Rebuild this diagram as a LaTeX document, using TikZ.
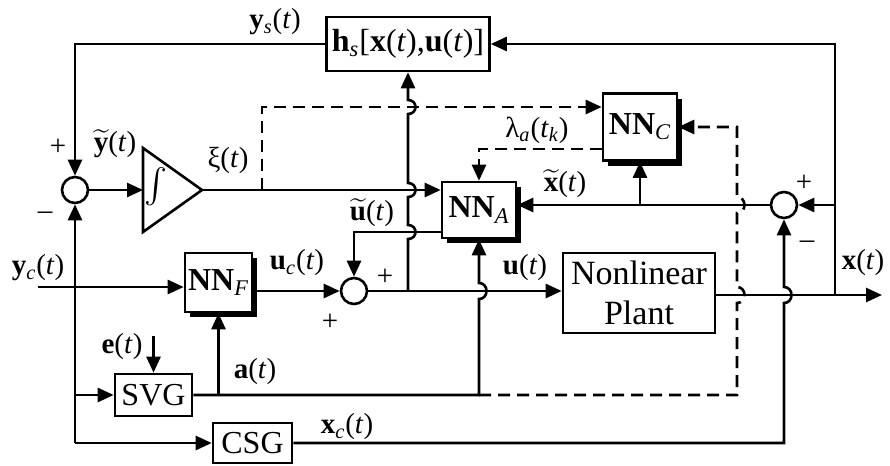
\documentclass[tikz,border=0pt]{standalone}
\usepackage{amsmath}
\usepackage{fontspec}
\setmainfont{Liberation Serif}
\usetikzlibrary{arrows.meta,shadows}
\newcommand{\tv}{(\textit{t})}
\newcommand{\bv}[1]{\textbf{#1}}
\newcommand{\sbi}[1]{$_{\textit{#1}}$}
\newcommand{\tld}[1]{$\widetilde{\textbf{#1}}$}
\begin{document}
\begin{tikzpicture}[x=0.5pt,y=-0.5pt, line width=1.3pt,
  >={Triangle[length=8pt,width=7pt]},
  box/.style={draw, fill=white, inner sep=0pt, font=\fontsize{16}{19}\selectfont},
  nnbox/.style={box, drop shadow={shadow xshift=2.5pt, shadow yshift=-2.5pt, fill=black, opacity=1}},
  sumj/.style={draw, circle, minimum size=13pt, inner sep=0pt},
  lab/.style={font=\fontsize{14.5}{17}\selectfont, inner sep=0pt},
  dsh/.style={dash pattern=on 6pt off 3.5pt}]
\useasboundingbox (0,0) rectangle (890,466);
% blocks
\node[box, minimum width=81.5pt, minimum height=27pt] (hs) at (408,44) {\bv{h}\sbi{s}[\bv{x}\tv,\bv{u}\tv]};
\node[nnbox, minimum width=37pt, minimum height=33.5pt] (nnc) at (640,127) {\bv{NN}\sbi{C}};
\node[nnbox, minimum width=37pt, minimum height=28pt] (nna) at (479,210) {\bv{NN}\sbi{A}};
\node[nnbox, minimum width=33.5pt, minimum height=29.5pt] (nnf) at (218.5,282.5) {\bv{NN}\sbi{F}};
\node[box, minimum width=76pt, minimum height=40pt, align=center, font=\fontsize{17}{20}\selectfont] (plant) at (639,293) {Nonlinear\\Plant};
\node[box, minimum width=38.5pt, minimum height=21pt] (svg) at (153.5,395) {SVG};
\node[box, minimum width=39.5pt, minimum height=20pt] (csg) at (252.5,443) {CSG};
\node[sumj] (s1) at (75,190) {};
\node[sumj] (s2) at (354,291) {};
\node[sumj] (s3) at (784,205) {};
% integrator
\coordinate (intL) at (143,190);
\coordinate (intR) at (202,190);
\draw (143,148) -- (143,232) -- (intR) -- cycle;
\node[inner sep=0pt, font=\fontsize{18}{20}\selectfont] (ints) at (156,187) {$\int$};
% coordinates
\coordinate (xj) at (835,295);
\coordinate (xout) at (882,295);
\coordinate (ycin) at (38,287);
\coordinate (lb) at (75,443);
\coordinate (ein) at (153.5,336);
\coordinate (xiB) at (262,190);
\coordinate (xiT) at (262,107);
\coordinate (ub) at (408,291);
\coordinate (cu) at (479,395);
\coordinate (dc) at (737,395);
\coordinate (cs) at (784,443);
% connectors
\draw[->] (xj) -- (835,44) -- (hs.east);
\draw[->] (hs.west) -| (s1.north);
\draw[->] (s1.east) -- (intL);
\draw[->] (intR) -- (intR -| nna.west);
\draw[dsh,->] (xiB) -- (xiT) -- (xiT -| nnc.west);
\draw[dsh,->] ([yshift=-11pt]nnc.west) -| (nna.north);
\draw[->] (s3.west) -- (s3.west -| nna.east);
\draw[->] (nnc.south |- s3.west) -- (nnc.south);
\draw[->] ([yshift=-11pt]nna.west) -| (s2.north);
\draw[->] (ycin) -- (ycin -| nnf.west);
\draw[->] (nnf.east |- s2.west) -- (s2.west);
\draw[->] (s2.east) -- (s2.east -| plant.west);
\draw (plant.east |- xj) -- (xj);
\draw[->] (xj) -- (xout);
\draw[->] (s3.east -| xj) -- (s3.east);
\draw[->] (ub) -- (408,239) .. controls (418,239) and (418,225) .. (408,225)
  -- (408,197) .. controls (418,197) and (418,183) .. (408,183)
  -- (408,114) .. controls (418,114) and (418,100) .. (408,100) -- (hs.south);
\draw[->] (lb) -- (s1.south);
\draw[->] (lb) -- (csg.west);
\draw[->] (lb |- svg.west) -- (svg.west);
\draw[->] (ein) -- (svg.north);
\draw[->] (svg.east -| nnf.south) -- (nnf.south);
\draw[->] (svg.east) -- (cu) -- (479,299) .. controls (489,299) and (489,283) .. (479,283) -- (nna.south);
\draw[dsh,->] (cu) -- (dc) -- (737,303) .. controls (747,303) and (747,287) .. (737,287)
  -- (737,213) .. controls (747,213) and (747,197) .. (737,197) -- (dc |- nnc.east) -- (nnc.east);
\draw[->] (csg.east) -- (cs) -- (784,303) .. controls (794,303) and (794,287) .. (784,287) -- (s3.south);
% labels
\node[lab] at (275,22) {\bv{y}\sbi{s}\tv};
\node[lab] at (115,144) {\tld{y}\tv};
\node[lab] at (58,147) {+};
\node[lab] at (45,216) {–};
\node[lab] at (228,160) {ξ\tv};
\node[lab] at (537,130) {λ\sbi{a}(\textit{t}\sbi{k})};
\node[lab] at (565,184) {\tld{x}\tv};
\node[lab] at (372,213) {\tld{u}\tv};
\node[lab] at (297,263) {\bv{u}\sbi{c}\tv};
\node[lab] at (330,322) {+};
\node[lab] at (385,277) {+};
\node[lab] at (525,268) {\bv{u}\tv};
\node[lab] at (863,263) {\bv{x}\tv};
\node[lab] at (804,183) {+};
\node[lab] at (807,245) {–};
\node[lab] at (122,347) {\bv{e}\tv};
\node[lab] at (255,372) {\bv{a}\tv};
\node[lab] at (347,427) {\bv{x}\sbi{c}\tv};
\node[lab] at (38,268) {\bv{y}\sbi{c}\tv};
\end{tikzpicture}
\end{document}
